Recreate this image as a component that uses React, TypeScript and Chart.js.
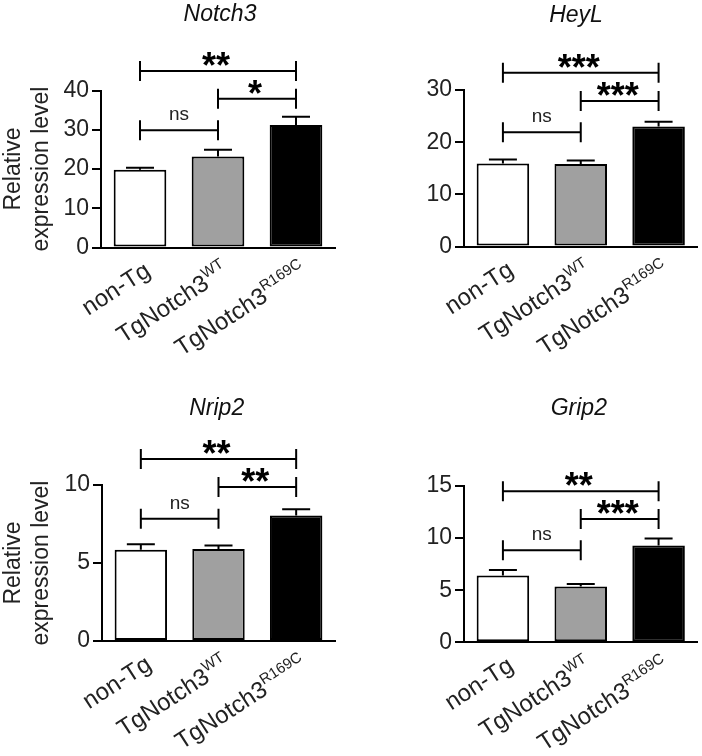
import React, { useEffect, useRef } from 'react';
import { Chart, registerables } from 'chart.js';

Chart.register(...registerables);

const FONT = "'Liberation Sans', Arial, Helvetica, sans-serif";

// ---- data ----
const categories = ['non-Tg', 'TgNotch3', 'TgNotch3'];
const superscripts = ['', 'WT', 'R169C'];
const barColors = ['#ffffff', '#a0a0a0', '#000000'];

const notch3Values = [19.8, 23.2, 31.2];
const notch3Errors = [0.5, 1.7, 2.1];
const heylValues = [15.9, 15.8, 23.0];
const heylErrors = [0.8, 0.7, 0.9];
const nrip2Values = [5.85, 5.9, 8.05];
const nrip2Errors = [0.35, 0.22, 0.4];
const grip2Values = [6.4, 5.35, 9.3];
const grip2Errors = [0.55, 0.25, 0.65];

const notch3Axis = [0, 40, 10];
const heylAxis = [0, 30, 10];
const nrip2Axis = [0, 10, 5];
const grip2Axis = [0, 15, 5];

// significance brackets: [from, to, level, label]
const notch3Brackets: [number, number, number, string][] = [[0, 1, 29.9, 'ns'], [1, 2, 37.9, '*'], [0, 2, 45.0, '**']];
const heylBrackets: [number, number, number, string][] = [[0, 1, 21.9, 'ns'], [1, 2, 27.9, '***'], [0, 2, 33.3, '***']];
const nrip2Brackets: [number, number, number, string][] = [[0, 1, 7.84, 'ns'], [1, 2, 9.87, '**'], [0, 2, 11.67, '**']];
const grip2Brackets: [number, number, number, string][] = [[0, 1, 8.83, 'ns'], [1, 2, 11.83, '***'], [0, 2, 14.49, '**']];

const W = 351;
const H = 378;

type Panel = {
  title: string;
  values: number[];
  errors: number[];
  axis: number[];
  brackets: [number, number, number, string][];
  yTitle: boolean;
  pos: { x: number; y: number };
  area: { l: number; r: number; t: number; b: number };
  titlePos: { x: number; y: number };
};

const panels: Panel[] = [
  {
    title: 'Notch3', values: notch3Values, errors: notch3Errors, axis: notch3Axis, brackets: notch3Brackets, yTitle: true,
    pos: { x: 0, y: 0 }, area: { l: 101, r: 335, t: 90.5, b: 247.5 }, titlePos: { x: 220, y: 21 },
  },
  {
    title: 'HeyL', values: heylValues, errors: heylErrors, axis: heylAxis, brackets: heylBrackets, yTitle: false,
    pos: { x: 351, y: 0 }, area: { l: 113, r: 346.5, t: 90, b: 246.5 }, titlePos: { x: 225, y: 21.5 },
  },
  {
    title: 'Nrip2', values: nrip2Values, errors: nrip2Errors, axis: nrip2Axis, brackets: nrip2Brackets, yTitle: true,
    pos: { x: 0, y: 378 }, area: { l: 102, r: 335, t: 107, b: 263 }, titlePos: { x: 216.7, y: 36.7 },
  },
  {
    title: 'Grip2', values: grip2Values, errors: grip2Errors, axis: grip2Axis, brackets: grip2Brackets, yTitle: false,
    pos: { x: 351, y: 378 }, area: { l: 113, r: 346.5, t: 108, b: 264.3 }, titlePos: { x: 227.8, y: 36.7 },
  },
];

function makePlugin(p: Panel) {
  return {
    id: 'annot_' + p.title,
    afterDraw(chart: any) {
      const { ctx, chartArea } = chart;
      const xs = chart.scales.x;
      const ys = chart.scales.y;
      ctx.save();
      ctx.strokeStyle = '#000';
      ctx.lineWidth = 2;
      ctx.lineCap = 'butt';
      // error bars (upper only)
      p.values.forEach((v, i) => {
        const x = xs.getPixelForValue(i);
        const y0 = ys.getPixelForValue(v);
        const y1 = ys.getPixelForValue(v + p.errors[i]);
        ctx.beginPath();
        ctx.moveTo(x, y0);
        ctx.lineTo(x, y1);
        ctx.moveTo(x - 14, y1);
        ctx.lineTo(x + 14, y1);
        ctx.stroke();
      });
      // brackets
      p.brackets.forEach(([a, b, lvl, label]) => {
        const xa = xs.getPixelForValue(a);
        const xb = xs.getPixelForValue(b);
        const y = ys.getPixelForValue(lvl);
        ctx.beginPath();
        ctx.moveTo(xa, y);
        ctx.lineTo(xb, y);
        ctx.moveTo(xa, y - 10);
        ctx.lineTo(xa, y + 10);
        ctx.moveTo(xb, y - 10);
        ctx.lineTo(xb, y + 10);
        ctx.stroke();
        ctx.textAlign = 'center';
        ctx.textBaseline = 'alphabetic';
        if (label === 'ns') {
          ctx.fillStyle = '#222';
          ctx.font = `19px ${FONT}`;
          ctx.fillText(label, (xa + xb) / 2, y - 10);
        } else {
          ctx.fillStyle = '#000';
          ctx.font = `bold 36px ${FONT}`;
          ctx.fillText(label, (xa + xb) / 2 - 2, y + 7);
        }
      });
      // title
      ctx.fillStyle = '#111';
      ctx.font = `italic 23px ${FONT}`;
      ctx.textAlign = 'center';
      ctx.textBaseline = 'alphabetic';
      ctx.fillText(p.title, p.titlePos.x, p.titlePos.y);
      // x labels, rotated, with superscripts
      const ang = (-33 * Math.PI) / 180;
      categories.forEach((c, i) => {
        const x = xs.getPixelForValue(i);
        const y = chartArea.bottom;
        ctx.save();
        ctx.translate(x + 12, y + 27);
        ctx.rotate(ang);
        ctx.fillStyle = '#222';
        ctx.textAlign = 'left';
        ctx.textBaseline = 'alphabetic';
        ctx.font = `15px ${FONT}`;
        const ws = superscripts[i] ? ctx.measureText(superscripts[i]).width : 0;
        ctx.font = `24px ${FONT}`;
        const wm = ctx.measureText(c).width;
        ctx.fillText(c, -(wm + ws), 0);
        if (superscripts[i]) {
          ctx.font = `15px ${FONT}`;
          ctx.fillText(superscripts[i], -ws, -10);
        }
        ctx.restore();
      });
      ctx.restore();
    },
  };
}

function PanelChart({ p }: { p: Panel }) {
  const ref = useRef<HTMLCanvasElement | null>(null);
  useEffect(() => {
    if (!ref.current) return;
    const a = p.area;
    const chart = new Chart(ref.current, {
      type: 'bar',
      data: {
        labels: categories,
        datasets: [
          {
            data: p.values,
            backgroundColor: barColors,
            borderColor: '#000',
            borderWidth: 2,
            borderSkipped: false,
            barPercentage: 0.675,
            categoryPercentage: 1,
          },
        ],
      },
      options: {
        responsive: false,
        animation: false,
        devicePixelRatio: 1,
        events: [],
        layout: { padding: { left: 0, right: W - a.r, top: a.t, bottom: 0 } },
        plugins: { legend: { display: false }, tooltip: { enabled: false }, title: { display: false } },
        scales: {
          x: {
            type: 'category',
            offset: true,
            grid: { display: false },
            border: { display: true, color: '#000', width: 2 },
            ticks: { display: false },
            afterFit: (s: any) => {
              s.height = H - a.b;
            },
          },
          y: {
            min: p.axis[0],
            max: p.axis[1],
            ticks: { stepSize: p.axis[2], color: '#222', font: { size: 23, family: FONT }, padding: 3 },
            grid: { drawOnChartArea: false, drawTicks: true, tickLength: 9, color: '#000', lineWidth: 2 },
            border: { display: true, color: '#000', width: 2 },
            title: {
              display: p.yTitle,
              text: ['Relative', 'expression level'],
              color: '#222',
              font: { size: 23, family: FONT, lineHeight: 1.2 },
              padding: 0,
            },
            afterFit: (s: any) => {
              s.width = a.l;
            },
          },
        },
      },
      plugins: [makePlugin(p)],
    });
    return () => chart.destroy();
  }, [p]);
  return (
    <div style={{ position: 'absolute', left: p.pos.x, top: p.pos.y, width: W, height: H }}>
      <canvas ref={ref} width={W} height={H} style={{ width: W, height: H, display: 'block' }} />
    </div>
  );
}

export default function App() {
  return (
    <div style={{ position: 'absolute', left: 0, top: 0, width: 702, height: 756, background: '#fff' }}>
      {panels.map((p) => (
        <PanelChart key={p.title} p={p} />
      ))}
    </div>
  );
}
